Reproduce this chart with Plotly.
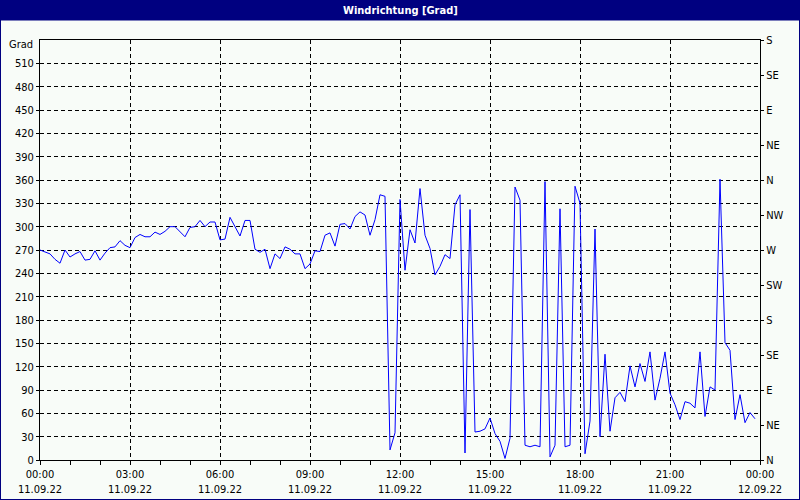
import pandas as pd
import plotly.graph_objects as go

# Wind direction [deg], 10-minute samples from 11.09.22 00:00 to 23:50
direction = [
    270, 268, 265, 258, 253, 270, 261, 265, 268, 257, 258, 269, 257, 266, 273, 274, 282, 276, 273, 286, 290, 287, 287, 293, 290,
    294, 300, 300, 294, 287, 299, 300, 308, 300, 306, 306, 283, 284, 312, 300, 288, 308, 308, 271, 267, 271, 246, 265, 259, 274,
    271, 265, 265, 246, 252, 269, 268, 289, 292, 275, 303, 304, 297, 313, 319, 315, 289, 309, 341, 339, 13, 35, 335, 244, 296,
    279, 349, 289, 272, 238, 249, 264, 259, 328, 341, 9, 322, 36, 37, 40, 54, 34, 24, 2, 28, 351, 334, 19, 17, 19,
    17, 358, 4, 19, 323, 17, 19, 352, 330, 8, 50, 297, 30, 136, 37, 80, 87, 75, 121, 94, 124, 101, 139, 77, 105,
    139, 86, 71, 52, 75, 73, 67, 139, 56, 94, 90, 361, 151, 141, 52, 84, 48, 61, 53,
]
times = pd.date_range("2022-09-11 00:00", periods=len(direction), freq="10min")

x_tick_vals = ["2022-09-11 00:00", "2022-09-11 03:00", "2022-09-11 06:00", "2022-09-11 09:00",
               "2022-09-11 12:00", "2022-09-11 15:00", "2022-09-11 18:00", "2022-09-11 21:00",
               "2022-09-12 00:00"]
x_tick_times = ["00:00", "03:00", "06:00", "09:00", "12:00", "15:00", "18:00", "21:00", "00:00"]
x_tick_dates = ["11.09.22"] * 8 + ["12.09.22"]
x_tick_text = [f"{t}<br>{d}" for t, d in zip(x_tick_times, x_tick_dates)]

y_left_vals = list(range(0, 540, 30))
y_right_vals = list(range(0, 541, 45))
y_right_text = ["N", "NE", "E", "SE", "S", "SW", "W", "NW", "N", "NE", "E", "SE", "S"]

BG = "#f8fcf8"
NAVY = "#000080"
FONT = "Liberation Sans Narrow, DejaVu Sans Condensed, Liberation Sans, Arial"

fig = go.Figure()
fig.add_trace(go.Scatter(x=times, y=direction, mode="lines",
                         line=dict(color="#0000ff", width=1), hoverinfo="skip", showlegend=False))
fig.add_trace(go.Scatter(x=[times[0]], y=[None], yaxis="y2", mode="lines",
                         showlegend=False, hoverinfo="skip"))

W, H = 800, 500
L, R, T, B = 40, 40, 40, 40
pw, ph = W - L - R, H - T - B
def px(x):
    return (x - L) / pw
def py(y):
    return (H - B - y) / ph

fig.update_layout(
    width=W, height=H, autosize=False,
    margin=dict(l=L, r=R, t=T, b=B, autoexpand=False),
    paper_bgcolor=BG, plot_bgcolor=BG,
    font=dict(family=FONT, size=11, color="black"),
    showlegend=False,
    xaxis=dict(
        range=["2022-09-11 00:00", "2022-09-12 00:00"],
        tickmode="array", tickvals=x_tick_vals, ticktext=x_tick_text,
        showgrid=True, gridcolor="black", gridwidth=1, griddash="4px,3px",
        showline=True, linecolor="black", linewidth=1, mirror=True,
        ticks="outside", ticklen=4, tickcolor="black",
        minor=dict(dtick=3600000, ticks="outside", ticklen=4, tickcolor="black", showgrid=False),
        zeroline=False, automargin=False, tickfont=dict(family=FONT, size=11, color="black"),
    ),
    yaxis=dict(
        range=[0, 540], tickmode="array", tickvals=y_left_vals,
        showgrid=True, gridcolor="black", gridwidth=1, griddash="4px,3px",
        showline=True, linecolor="black", linewidth=1, mirror=True,
        ticks="outside", ticklen=3, tickcolor="black",
        zeroline=False, automargin=False, tickfont=dict(family=FONT, size=11, color="black"),
    ),
    yaxis2=dict(
        range=[0, 540], overlaying="y", side="right",
        tickmode="array", tickvals=y_right_vals, ticktext=y_right_text,
        showgrid=False, showline=True, linecolor="black", linewidth=1,
        ticks="outside", ticklen=3, tickcolor="black",
        zeroline=False, automargin=False, tickfont=dict(family=FONT, size=11, color="black"),
    ),
    shapes=[
        dict(type="rect", xref="paper", yref="paper", layer="above",
             x0=px(0), x1=px(W), y0=py(0), y1=py(20.5),
             fillcolor=NAVY, line=dict(width=0)),
        dict(type="rect", xref="paper", yref="paper", layer="above",
             x0=px(0), x1=px(W), y0=py(0), y1=py(H),
             fillcolor="rgba(0,0,0,0)", line=dict(color=NAVY, width=2)),
    ],
    annotations=[
        dict(text="<b>Windrichtung [Grad]</b>", xref="paper", yref="paper",
             x=0.5, y=py(10), xanchor="center", yanchor="middle", showarrow=False,
             font=dict(family=FONT, size=11, color="white")),
        dict(text="Grad", xref="paper", yref="paper",
             x=px(35), y=py(45), xanchor="right", yanchor="middle", showarrow=False,
             font=dict(family=FONT, size=11, color="black")),
    ],
)

fig.write_html("out.html", config={"displayModeBar": False},
               post_script="document.body.style.margin='0';document.body.style.overflow='hidden';")
